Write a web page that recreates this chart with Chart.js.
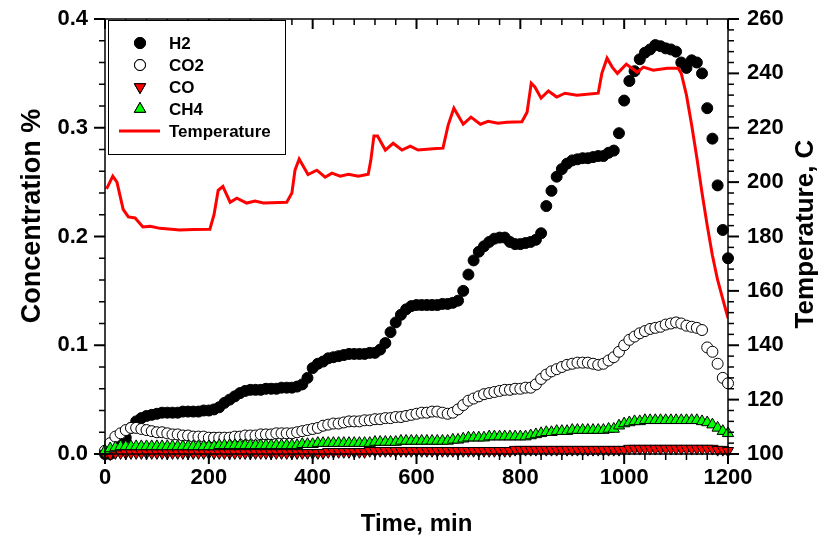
<!DOCTYPE html>
<html lang="en">
<head>
<meta charset="UTF-8">
<title>Gas concentration and temperature vs time</title>
<script src="https://cdn.jsdelivr.net/npm/chart.js"></script>
<style>
  html, body { margin: 0; padding: 0; background: #fff; }
  .chart-box { width: 819px; height: 540px; }
</style>
</head>
<body>
<div class="chart-box"><canvas id="gasChart" width="819" height="540"></canvas></div>
<script>
// gas samples, one every 10 min from 0 to 1200 (rows = 100 min)
const sampleStep = 10;
const h2 = [
  0.000, 0.000, 0.003, 0.008, 0.015, 0.024, 0.030, 0.033, 0.035, 0.036,
  0.037, 0.038, 0.038, 0.038, 0.038, 0.039, 0.039, 0.039, 0.039, 0.040,
  0.040, 0.041, 0.043, 0.047, 0.050, 0.053, 0.056, 0.058, 0.059, 0.059,
  0.059, 0.060, 0.060, 0.060, 0.061, 0.061, 0.061, 0.062, 0.064, 0.070,
  0.079, 0.083, 0.085, 0.088, 0.089, 0.090, 0.091, 0.092, 0.092, 0.092,
  0.092, 0.093, 0.093, 0.096, 0.102, 0.112, 0.121, 0.128, 0.133, 0.136,
  0.137, 0.137, 0.137, 0.137, 0.137, 0.138, 0.138, 0.139, 0.141, 0.150,
  0.165, 0.178, 0.186, 0.191, 0.195, 0.198, 0.199, 0.199, 0.195, 0.193,
  0.193, 0.194, 0.195, 0.197, 0.203, 0.228, 0.242, 0.255, 0.262, 0.267,
  0.270, 0.271, 0.272, 0.272, 0.273, 0.274, 0.274, 0.277, 0.279, 0.295,
  0.325, 0.343, 0.352, 0.363, 0.369, 0.372, 0.376, 0.375, 0.373, 0.372,
  0.370, 0.360, 0.355, 0.362, 0.360, 0.350, 0.318, 0.290, 0.247, 0.206,
  0.180
];
const co2 = [
  0.003, 0.010, 0.016, 0.019, 0.022, 0.024, 0.024, 0.023, 0.022, 0.021,
  0.020, 0.020, 0.019, 0.018, 0.018, 0.017, 0.017, 0.016, 0.016, 0.016,
  0.015, 0.015, 0.015, 0.015, 0.015, 0.016, 0.016, 0.017, 0.017, 0.017,
  0.018, 0.018, 0.018, 0.019, 0.019, 0.019, 0.019, 0.020, 0.021, 0.022,
  0.023, 0.024, 0.026, 0.027, 0.028, 0.028, 0.029, 0.030, 0.030, 0.030,
  0.031, 0.031, 0.032, 0.032, 0.033, 0.033, 0.034, 0.034, 0.035, 0.036,
  0.037, 0.038, 0.038, 0.039, 0.039, 0.038, 0.037, 0.038, 0.041, 0.045,
  0.049, 0.051, 0.053, 0.055, 0.056, 0.057, 0.058, 0.059, 0.059, 0.060,
  0.060, 0.061, 0.061, 0.064, 0.069, 0.073, 0.076, 0.078, 0.080, 0.082,
  0.083, 0.084, 0.084, 0.084, 0.083, 0.082, 0.083, 0.086, 0.089, 0.094,
  0.100, 0.105, 0.108, 0.111, 0.113, 0.115, 0.116, 0.117, 0.119, 0.120,
  0.121, 0.120, 0.118, 0.117, 0.116, 0.114, 0.098, 0.094, 0.083, 0.070,
  0.065
];
const co = [
  0.000, 0.000, 0.001, 0.001, 0.001, 0.001, 0.001, 0.001, 0.001, 0.001,
  0.001, 0.001, 0.001, 0.001, 0.001, 0.001, 0.001, 0.001, 0.001, 0.001,
  0.001, 0.001, 0.001, 0.001, 0.001, 0.001, 0.001, 0.001, 0.001, 0.001,
  0.001, 0.001, 0.001, 0.001, 0.001, 0.001, 0.001, 0.001, 0.001, 0.001,
  0.001, 0.001, 0.001, 0.002, 0.002, 0.002, 0.002, 0.002, 0.002, 0.002,
  0.002, 0.003, 0.003, 0.003, 0.003, 0.003, 0.003, 0.003, 0.003, 0.003,
  0.003, 0.003, 0.003, 0.003, 0.003, 0.003, 0.003, 0.003, 0.003, 0.003,
  0.003, 0.003, 0.003, 0.003, 0.003, 0.003, 0.003, 0.003, 0.003, 0.004,
  0.004, 0.004, 0.004, 0.004, 0.004, 0.004, 0.004, 0.004, 0.004, 0.004,
  0.004, 0.004, 0.004, 0.004, 0.004, 0.004, 0.004, 0.004, 0.004, 0.004,
  0.004, 0.005, 0.005, 0.005, 0.005, 0.005, 0.005, 0.005, 0.005, 0.005,
  0.005, 0.005, 0.005, 0.005, 0.005, 0.005, 0.005, 0.005, 0.004, 0.004,
  0.003
];
const ch4 = [
  0.003, 0.005, 0.006, 0.007, 0.007, 0.007, 0.007, 0.007, 0.007, 0.007,
  0.007, 0.007, 0.007, 0.007, 0.007, 0.007, 0.007, 0.007, 0.007, 0.007,
  0.007, 0.007, 0.008, 0.008, 0.008, 0.008, 0.008, 0.008, 0.008, 0.008,
  0.008, 0.008, 0.008, 0.008, 0.008, 0.008, 0.008, 0.008, 0.009, 0.009,
  0.009, 0.010, 0.010, 0.010, 0.010, 0.010, 0.010, 0.010, 0.010, 0.010,
  0.010, 0.010, 0.011, 0.011, 0.011, 0.011, 0.011, 0.012, 0.012, 0.012,
  0.012, 0.012, 0.012, 0.012, 0.012, 0.012, 0.012, 0.013, 0.013, 0.014,
  0.015, 0.015, 0.015, 0.015, 0.016, 0.016, 0.016, 0.016, 0.016, 0.016,
  0.016, 0.016, 0.017, 0.018, 0.019, 0.020, 0.020, 0.021, 0.021, 0.021,
  0.022, 0.022, 0.022, 0.022, 0.022, 0.022, 0.022, 0.023, 0.023, 0.026,
  0.028, 0.029, 0.030, 0.030, 0.031, 0.031, 0.031, 0.031, 0.031, 0.031,
  0.031, 0.031, 0.031, 0.031, 0.031, 0.030, 0.029, 0.027, 0.024, 0.021,
  0.019
];

// temperature trace (right axis), read at its corners
const tempTime = [
  3, 15, 23, 35, 45, 58, 73, 87, 106, 144, 170, 202, 210, 218, 227, 241,
  254, 273, 289, 305, 350, 360, 366, 374, 391, 408, 424, 437, 453, 469,
  488, 507, 512, 518, 525, 540, 555, 572, 588, 603, 632, 651, 661, 672,
  690, 705, 723, 738, 757, 774, 803, 813, 821, 828, 840, 854, 870, 886,
  909, 950, 957, 967, 977, 987, 1004, 1015, 1025, 1037, 1056, 1083, 1104,
  1110, 1120, 1130, 1140, 1150, 1160, 1170, 1180, 1190, 1200
];
const tempValues = [
  197.5, 202.2, 200, 190, 187.2, 186.8, 183.5, 183.8, 183, 182.4, 182.6, 182.7, 188, 197, 198.4, 192.6,
  194.1, 192.3, 193, 192.3, 192.6, 196, 204.4, 208.5, 202.8, 204.4, 201.8, 203.3, 202.2, 202.9,
  202.2, 202.9, 208, 217, 217, 211.8, 214.3, 211.8, 213.2, 211.8, 212.3, 212.5, 221, 227.2,
  221.3, 223.9, 221.3, 222.4, 221.7, 222, 222.2, 225.7, 236.4, 235, 230.9, 233.5, 231.3, 232.7,
  232, 232.7, 240, 245.6, 242.3, 240, 243.4, 241.9, 240.4, 242.3, 241.2, 241.9, 241.9,
  240, 232, 221, 209, 196, 184, 173, 164, 157, 150
];

const xTickLabels = [0, 200, 400, 600, 800, 1000, 1200];
const yTickLabels = [0.0, 0.1, 0.2, 0.3, 0.4];
const y2TickLabels = [100, 120, 140, 160, 180, 200, 220, 240, 260];

const times = h2.map((_, i) => i * sampleStep);
const pts = arr => arr.map((v, i) => ({ x: times[i], y: v }));

const FONT = '"Liberation Sans", Arial, sans-serif';
const TICK_FONT = { family: FONT, size: 22, weight: 'bold' };

function markerSet(label, values, style) {
  return Object.assign({
    label: label,
    data: pts(values),
    yAxisID: 'y',
    showLine: false,
    pointRadius: 5.5,
    pointBorderColor: '#000',
    pointBorderWidth: 1,
    clip: 8
  }, style);
}

const datasets = [
  markerSet('H2', h2, { pointStyle: 'circle', pointBackgroundColor: '#000', order: 5 }),
  markerSet('CO2', co2, { pointStyle: 'circle', pointBackgroundColor: '#fff', order: 4 }),
  markerSet('CO', co, { pointStyle: 'triangle', pointRotation: 180, pointRadius: 6.5, pointBackgroundColor: '#ff0000', order: 3 }),
  markerSet('CH4', ch4, { pointStyle: 'triangle', pointRadius: 6.5, pointBackgroundColor: '#00ff00', order: 2 }),
  {
    label: 'Temperature',
    data: tempTime.map((t, i) => ({ x: t, y: tempValues[i] })),
    yAxisID: 'y2',
    borderColor: '#ff0000',
    borderWidth: 3,
    pointRadius: 0,
    tension: 0,
    order: 1
  }
];

function tickFilter(list) {
  return function (scale) {
    scale.ticks = list.map(v => ({ value: v }));
  };
}

// fixed box size, and no extra label overhang padding for the layout
function fixBox(size) {
  return function (s) {
    if (s.isHorizontal()) s.height = size; else s.width = size;
    s.paddingTop = 0; s.paddingBottom = 0;
    s.paddingLeft = 0; s.paddingRight = 0;
  };
}

// frame round the plot plus major/minor tick marks
const frameTicks = {
  id: 'frameTicks',
  afterDatasetsDraw(chart) {
    const { ctx, chartArea: a, scales } = chart;
    ctx.save();
    ctx.strokeStyle = '#000';
    ctx.lineWidth = 1.5;
    ctx.strokeRect(a.left, a.top, a.right - a.left, a.bottom - a.top);
    const line = (x1, y1, x2, y2, w) => {
      ctx.lineWidth = w;
      ctx.beginPath(); ctx.moveTo(x1, y1); ctx.lineTo(x2, y2); ctx.stroke();
    };
    for (let i = 0; i <= 30; i++) {          // every 40 min
      const x = scales.x.getPixelForValue(i * 40);
      const major = i % 5 === 0;
      const len = major ? 10 : 6;
      line(x, a.bottom, x, a.bottom + len, major ? 2 : 1.5);
      line(x, a.top, x, a.top + len, major ? 2 : 1.5);
    }
    for (let i = 0; i <= 20; i++) {          // every 0.02
      const y = scales.y.getPixelForValue(i * 0.02);
      const major = i % 5 === 0;
      line(a.left - (major ? 11 : 6), y, a.left, y, major ? 2 : 1.5);
    }
    for (let i = 0; i <= 40; i++) {          // every 4 C
      const y = scales.y2.getPixelForValue(100 + i * 4);
      const major = i % 5 === 0;
      line(a.right, y, a.right + (major ? 11 : 6), y, major ? 2 : 1.5);
    }
    ctx.restore();
  }
};

function vText(ctx, text, x, y, size) {
  ctx.save();
  ctx.fillStyle = '#000';
  ctx.font = 'bold ' + size + 'px ' + FONT;
  ctx.textAlign = 'center';
  ctx.textBaseline = 'middle';
  ctx.translate(x, y);
  ctx.rotate(-Math.PI / 2);
  ctx.fillText(text, 0, 0);
  ctx.restore();
}

const axisTitles = {
  id: 'axisTitles',
  afterDraw(chart) {
    const { ctx, chartArea: a } = chart;
    ctx.save();
    ctx.fillStyle = '#000';
    ctx.font = 'bold 24px ' + FONT;
    ctx.textAlign = 'center';
    ctx.textBaseline = 'middle';
    ctx.fillText('Time, min', (a.left + a.right) / 2, 524);
    ctx.restore();
    vText(ctx, 'Concentration %', 33, 216, 27);
    vText(ctx, 'Temperature, C', 806, 234, 26);
  }
};

const boxLegend = {
  id: 'boxLegend',
  afterDraw(chart) {
    const { ctx, chartArea: a } = chart;
    const left = a.left + 3, top = a.top + 1, w = 177, h = 134;
    ctx.save();
    ctx.fillStyle = '#fff';
    ctx.fillRect(left, top, w, h);
    ctx.strokeStyle = '#000';
    ctx.lineWidth = 1;
    ctx.strokeRect(left + 0.5, top + 0.5, w, h);
    ctx.font = 'bold 17px ' + FONT;
    ctx.textBaseline = 'middle';
    chart.data.datasets.forEach((ds, i) => {
      const y = top + 23 + i * 22;
      const mx = left + 32;
      if (ds.showLine === false) {
        Chart.helpers.drawPoint(ctx, {
          pointStyle: ds.pointStyle,
          rotation: ds.pointRotation || 0,
          radius: ds.pointRadius,
          borderWidth: ds.pointBorderWidth
        }, mx, y);
        ctx.fillStyle = ds.pointBackgroundColor;
        ctx.strokeStyle = ds.pointBorderColor;
        ctx.lineWidth = ds.pointBorderWidth;
        ctx.fill();
        ctx.stroke();
      } else {
        ctx.strokeStyle = ds.borderColor;
        ctx.lineWidth = 3;
        ctx.beginPath();
        ctx.moveTo(left + 11, y);
        ctx.lineTo(left + 52, y);
        ctx.stroke();
      }
      ctx.fillStyle = '#000';
      ctx.fillText(ds.label, left + 61, y + 1);
    });
    ctx.restore();
  }
};

new Chart(document.getElementById('gasChart'), {
  type: 'line',
  data: { datasets: datasets },
  options: {
    responsive: false,
    animation: false,
    layout: { padding: { top: 19, left: 0, right: 0, bottom: 0 } },
    plugins: {
      legend: { display: false },
      tooltip: { enabled: false }
    },
    scales: {
      x: {
        type: 'linear',
        min: 0, max: 1200,
        afterBuildTicks: tickFilter(xTickLabels),
        afterFit: fixBox(86),
        grid: { display: false, drawTicks: false },
        border: { display: false },
        ticks: { padding: 11, color: '#000', font: TICK_FONT, maxRotation: 0, callback: v => String(v) }
      },
      y: {
        type: 'linear',
        position: 'left',
        min: 0, max: 0.4,
        afterBuildTicks: tickFilter(yTickLabels),
        afterFit: fixBox(105),
        grid: { display: false, drawTicks: false },
        border: { display: false },
        ticks: { padding: 17, color: '#000', font: TICK_FONT, callback: v => v.toFixed(1) }
      },
      y2: {
        type: 'linear',
        position: 'right',
        min: 100, max: 260,
        afterBuildTicks: tickFilter(y2TickLabels),
        afterFit: fixBox(91),
        grid: { display: false, drawTicks: false },
        border: { display: false },
        ticks: { padding: 19, color: '#000', font: TICK_FONT, callback: v => String(v) }
      }
    }
  },
  plugins: [frameTicks, axisTitles, boxLegend]
});
</script>
</body>
</html>
